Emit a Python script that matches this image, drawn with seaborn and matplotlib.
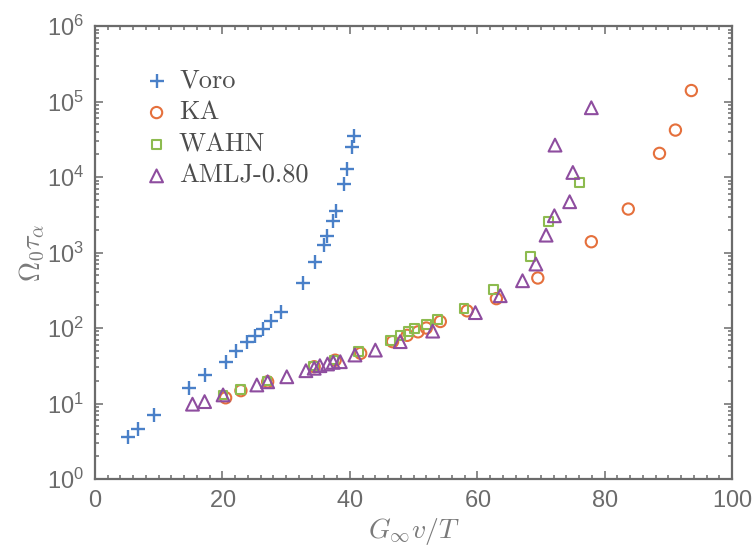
import matplotlib
matplotlib.use("Agg")
import matplotlib.pyplot as plt
import matplotlib.ticker as mticker
import seaborn as sns

# values
voro_x = [5.2, 6.8, 9.3, 14.7, 17.2, 20.5, 22.1, 23.9, 25.1, 26.3, 27.7, 29.2,
          32.6, 34.6, 36.0, 36.4, 37.4, 37.9, 39.1, 39.5, 40.3, 40.7]
voro_y = [3.6, 4.6, 7.1, 15.9, 23.8, 35, 50, 65, 78, 98, 124, 164,
          390, 750, 1250, 1650, 2600, 3550, 8000, 12800, 25200, 35000]

ka_x = [20.5, 22.9, 27.1, 34.4, 37.7, 41.7, 46.7, 49.0, 50.7, 52.0, 54.2,
        58.4, 63.0, 69.5, 77.9, 83.7, 88.6, 91.1, 93.6]
ka_y = [11.9, 14.8, 19.4, 30.7, 37.5, 46.2, 66, 80, 89, 100, 122,
        169, 245, 460, 1390, 3770, 20600, 41900, 140000]

wahn_x = [20.1, 22.8, 27.0, 34.3, 37.5, 41.3, 46.4, 47.9, 49.2, 50.1, 52.0,
          53.8, 57.9, 62.5, 68.4, 71.2, 76.1]
wahn_y = [13.0, 15.4, 19.9, 31.5, 37.7, 49, 69, 80, 91, 99, 112,
          129, 181, 326, 890, 2560, 8400]

amlj_x = [15.3, 17.2, 20.1, 25.4, 27.1, 30.1, 33.1, 34.4, 35.3, 36.5, 37.4,
          38.5, 40.8, 44.0, 47.9, 53.0, 59.7, 63.6, 67.1, 69.2, 70.8, 72.1,
          74.5, 75.0, 72.2, 77.9]
amlj_y = [9.8, 10.6, 13.0, 17.6, 19.4, 22.6, 27.2, 29.3, 31.7, 33.4, 35.1,
          35.8, 43.9, 51, 66, 91, 160, 268, 423, 704, 1700, 3070,
          4710, 11500, 26500, 82800]

labels = ["Voro", "KA", "WAHN", "AMLJ-0.80"]

BLUE = "#4A80C8"
ORANGE = "#E5703C"
GREEN = "#8DBB4F"
PURPLE = "#8E4D9F"
GREY = "#6b6b6b"

sns.set_theme(style="ticks")
plt.rcParams["font.family"] = ["Liberation Sans", "DejaVu Sans"]
plt.rcParams["mathtext.fontset"] = "cm"
plt.rcParams["axes.formatter.use_mathtext"] = True

fig = plt.figure(figsize=(7.54, 5.49), dpi=100)
ax = fig.add_axes([0.126, 0.1275, 0.845, 0.825])

series = [
    (voro_x, voro_y, "+", BLUE, 95),
    (ka_x, ka_y, "o", ORANGE, 66),
    (wahn_x, wahn_y, "s", GREEN, 40),
    (amlj_x, amlj_y, "^", PURPLE, 85),
]
for (xs, ys, mk, col, size), lab in zip(series, labels):
    if mk == "+":
        sns.scatterplot(x=xs, y=ys, marker=mk, color=col, s=size,
                        linewidth=1.7, label=lab, ax=ax)
    else:
        sns.scatterplot(x=xs, y=ys, marker=mk, facecolor="none",
                        edgecolor=col, s=size, linewidth=1.5, label=lab, ax=ax)

ax.set_yscale("log")
ax.set_xlim(0, 100)
ax.set_ylim(1, 1e6)
ax.xaxis.set_major_locator(mticker.MultipleLocator(20))
ax.xaxis.set_minor_locator(mticker.MultipleLocator(2))
ax.yaxis.set_major_locator(mticker.LogLocator(base=10, numticks=10))
ax.yaxis.set_minor_locator(mticker.LogLocator(base=10, subs=range(2, 10), numticks=20))
ax.yaxis.set_minor_formatter(mticker.NullFormatter())
ax.xaxis.get_offset_text().set_visible(False)
ax.yaxis.get_offset_text().set_visible(False)

for sp in ax.spines.values():
    sp.set_visible(True)
    sp.set_color(GREY)
    sp.set_linewidth(1.6)
ax.tick_params(which="both", direction="in", top=True, right=True,
               color=GREY, width=1.1, labelcolor=GREY, labelsize=17)
ax.tick_params(which="major", length=6, pad=8)
ax.tick_params(which="minor", length=3)

ax.set_xlabel(r"$G_\infty v/T$", fontsize=20, color="#7a7a7a", labelpad=3)
ax.set_ylabel(r"$\Omega_0\tau_\alpha$", fontsize=20, color="#7a7a7a", labelpad=0)

leg = ax.legend(loc="upper left", bbox_to_anchor=(0.078, 0.905), frameon=False,
                borderpad=0, borderaxespad=0, handlelength=0.9,
                handletextpad=0.4, labelspacing=0.3,
                prop={"family": "cmr10", "size": 19})
for t in leg.get_texts():
    t.set_color("#4d4d4d")

fig.savefig("out.png", dpi=100)
